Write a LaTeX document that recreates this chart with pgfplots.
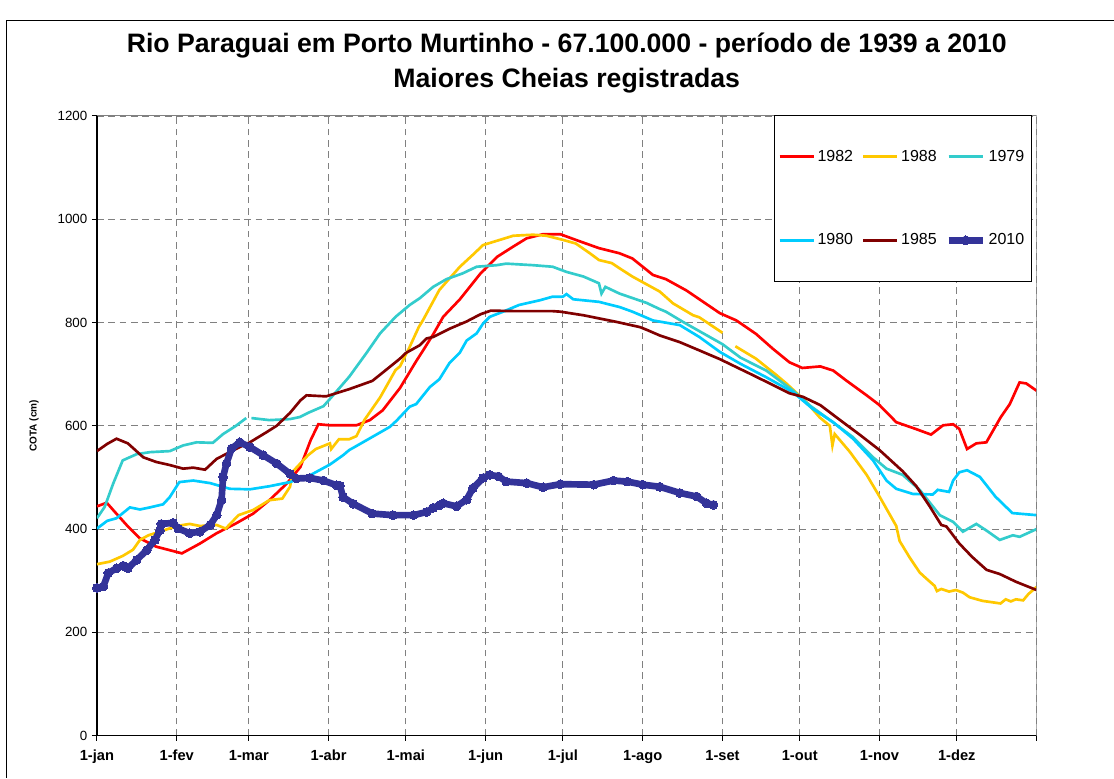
\documentclass[border=0pt]{standalone}
\usepackage{pgfplots}
\pgfplotsset{compat=1.18}
\usepackage{fontspec}
\setmainfont{Liberation Sans}
\definecolor{c82}{HTML}{FF0000}
\definecolor{c88}{HTML}{FFC800}
\definecolor{c79}{HTML}{33CCCC}
\definecolor{c80}{HTML}{00CCFF}
\definecolor{c85}{HTML}{800000}
\definecolor{c10}{HTML}{333399}
\begin{document}
\begin{tikzpicture}
\begin{axis}[at={(0,0)},anchor=south west,scale only axis,width=705pt,height=465pt,
 xmin=0,xmax=365,ymin=0,ymax=1200,
 axis lines*=left, axis line style={black,line width=1pt},
 xtick={0,31,59,90,120,151,181,212,243,273,304,334,365},
 xticklabels={1-jan,1-fev,1-mar,1-abr,1-mai,1-jun,1-jul,1-ago,1-set,1-out,1-nov,1-dez,{}},
 ytick={0,200,...,1200},
 tick align=outside, major tick length=3.75pt, tick style={black,line width=0.75pt},
 grid=major, grid style={gray,dash pattern=on 5pt off 3.5pt,line width=0.6pt},
 xticklabel style={font=\fontsize{11}{13}\selectfont\bfseries, text height=8.2pt, text depth=2.4pt, yshift=-3pt},
 yticklabel style={font=\fontsize{10}{12}\selectfont, /pgf/number format/1000 sep={}},
 /pgf/number format/assume math mode=true,
 ylabel={COTA (cm)},
 ylabel style={font=\fontsize{7.5}{9}\selectfont\bfseries, at={(axis description cs:-0.067,0.5)}, anchor=center},
 unbounded coords=jump,
 legend columns=3,
 legend style={at={(axis description cs:0.9943,1.0015)},anchor=north east, draw=black, fill=white,
   inner xsep=3pt, inner ysep=24pt, row sep=49pt, font=\fontsize{12}{14}\selectfont,
   /tikz/every even column/.append style={column sep=4.5pt}},
 legend image code/.code={\draw[mark repeat=2,mark phase=2,#1] plot coordinates {(0pt,0pt) (12.75pt,0pt) (25.5pt,0pt)};},
 legend cell align=left,
]
% 1982
\addplot[c82, line width=2pt, no markers] coordinates {
(0,444) (3.8,451) (7,433) (11.5,408) (16.7,382) (23,366) (33,353) (40,372) (46.5,392) (54,411) (60.7,430) (67,456) (73.7,488) (79,520) (83,572) (86,603) (90.5,601) (100.8,601) (106,611) (111,630) (117.7,673) (124,725) (126.7,746) (130.6,777) (134.5,811) (141,845) (149,895) (155.4,927) (161.7,947) (166.9,963) (173.3,971) (180,971) (186,960) (195,944) (203,934) (208,924) (216,892) (221,884) (229,862) (242,818) (248.4,804) (256,778) (262.6,749) (269,723) (274,712) (281,715) (286,707) (291,688) (299,659) (304,640) (310.5,607) (318,594) (324,583) (328.7,601) (332.6,603) (335,594) (338,555) (341.6,566) (345.5,568) (351,616) (354.6,642) (358.4,684) (361,682) (365,668)};
\addlegendentry{1982}
% 1988
\addplot[c88, line width=2pt, no markers] coordinates {
(0,332) (5,337) (10,348) (14,360) (16.7,379) (20,388) (24.5,395) (31,406) (36,410) (40,406) (46.5,408) (50,401) (55,427) (60.7,437) (67,456) (72,459) (75,482) (76,511) (82,543) (85,555) (90.5,566) (91,555) (94,574) (98,574) (100.8,580) (104,612) (110,655) (116,708) (117.7,715) (121.5,753) (125,791) (126.7,805) (133,863) (141,908) (146,931) (150,950) (156.5,960) (161.7,968) (169.4,970) (174.6,968) (181,960) (186,953) (191.5,934) (195,921) (200,915) (203,905) (208,889) (218.6,860) (223.8,837) (231.6,814) (234,810) (243,780) (245.5,nan) (248,754) (256,730) (264,698) (267.8,682) (275.6,646) (280.8,616) (284.7,600) (285.7,562) (286.6,584) (292.4,550) (299,505) (304,463) (310.5,406) (311.8,377) (315.7,345) (319.6,316) (322,305) (325.4,290) (326.3,280) (328,284) (331,279) (333.7,282) (336.4,277) (339,268) (344,261) (351,256) (353,264) (355,260) (357,264) (359.8,262) (361.8,274) (365,288)};
\addlegendentry{1988}
% 1979
\addplot[c79, line width=2pt, no markers] coordinates {
(0,421) (3,443) (6.3,488) (10,533) (15.4,545) (20.6,549) (28.3,551) (33.5,562) (38.7,568) (45,567) (49,584) (54,600) (58,615) (59,nan) (60,615) (67,611) (75,613) (78.8,617) (82,625) (88,638) (90.5,652) (98,695) (104.7,741) (110,779) (116,811) (121.5,834) (125.4,847) (130.6,869) (135.8,884) (142,895) (147.5,908) (155.2,911) (159,914) (169.4,911) (177,908) (182.4,898) (189,889) (195,876) (196,856) (197.5,869) (203,856) (213.5,838) (218.6,826) (221,821) (227.7,801) (243,758) (250,732) (260,707) (270.4,668) (277,639) (283.4,616) (293.7,578) (301.5,539) (306.7,517) (313,505) (319.6,476) (327.4,427) (332.6,414) (336.4,395) (341.6,410) (345.6,397) (350.7,379) (355.8,388) (358.4,385) (365,400)};
\addlegendentry{1979}
% 1980
\addplot[c80, line width=2pt, no markers] coordinates {
(0,401) (4,416) (7.6,421) (12.8,442) (16.7,438) (20.6,442) (25.7,448) (28.3,462) (32,491) (37.4,494) (44,489) (51.6,478) (59.4,477) (67,483) (75,491) (82.7,504) (90.5,525) (95.6,543) (98,553) (104.7,572) (113.8,598) (116.4,610) (121.5,637) (124,642) (129.3,675) (133,690) (137,722) (141,742) (143.6,765) (147.5,779) (150,798) (152.6,811) (157.8,821) (164,834) (172,843) (177,850) (181,850) (182.4,855) (185,845) (195,840) (203,830) (208,821) (216,804) (226.4,795) (234,772) (242,743) (250,720) (260,694) (270.4,665) (278,633) (286,607) (293.7,575) (301.5,533) (306.7,494) (310.5,478) (317,468) (324.7,467) (326.6,476) (331,472) (332.6,494) (335,510) (338,514) (343,501) (349,463) (355.6,431) (365,427)};
\addlegendentry{1980}
% 1985
\addplot[c85, line width=2pt, no markers] coordinates {
(0,551) (4,565) (7.6,575) (12,566) (18,539) (23,530) (28.3,524) (33.5,517) (37.4,519) (42,515) (46.5,536) (51.6,549) (55.5,559) (59.4,568) (66,588) (69.8,600) (75,625) (79,649) (81.4,659) (89,657) (98,671) (107,687) (112,707) (117.7,730) (120,741) (125.4,756) (128,769) (130.6,772) (137,788) (143.6,802) (149,816) (153,823) (163,822) (177,822) (180,821) (189,814) (202,801) (211,791) (213.5,786) (218.6,775) (226.4,762) (234,746) (242,729) (253.6,701) (262.6,679) (269,663) (274.3,656) (281,640) (288.7,611) (296.5,582) (304,553) (313,512) (318.3,483) (323.5,444) (328,408) (330,405) (335,372) (340,346) (345.6,321) (350.7,313) (357,298) (365,282)};
\addlegendentry{1985}
% 2010
\addplot[c10, line width=5pt, mark=*, mark size=3.3pt, mark options={fill=c10,draw=c10,line width=0pt}] coordinates {
(0,286) (2.5,289) (4.4,315) (7.6,324) (10.2,329) (12,324) (15.4,340) (19.3,359) (22.5,379) (24.5,398) (25,410) (29.6,412) (31.6,401) (36,392) (40,395) (44,408) (46.5,427) (48.4,456) (49,501) (50.3,527) (52.3,556) (55.5,568) (59.4,559) (64.6,543) (69.8,527) (75,507) (77.5,498) (82.7,499) (88,494) (93,485) (94.4,484) (95.6,462) (99.6,449) (107,430) (115,427) (123,427) (128,433) (130.6,441) (133,446) (134.5,450) (139.7,444) (143.6,457) (146,479) (150,499) (152.6,505) (156,502) (159,492) (167,489) (173.3,481) (180,487) (193,486) (200.6,494) (206,492) (212,486) (218.6,482) (226.4,470) (233,463) (236.8,450) (239.5,447)};
\addlegendentry{2010}
\draw[gray,line width=0.75pt] (rel axis cs:0,1) -- (rel axis cs:1,1) -- (rel axis cs:1,0);
\end{axis}
\node[align=center,font=\fontsize{20}{26.25}\selectfont\bfseries] at (352.5pt,504.5pt) {Rio Paraguai em Porto Murtinho - 67.100.000 - período de 1939 a 2010\\Maiores Cheias registradas};
\draw[black,line width=0.75pt] (-67.5pt,-31.5pt) -- (-67.5pt,536.25pt) -- (762.75pt,536.25pt);
\path[use as bounding box] (-72.75pt,-31.5pt) rectangle (762.75pt,552pt);
\end{tikzpicture}
\end{document}
